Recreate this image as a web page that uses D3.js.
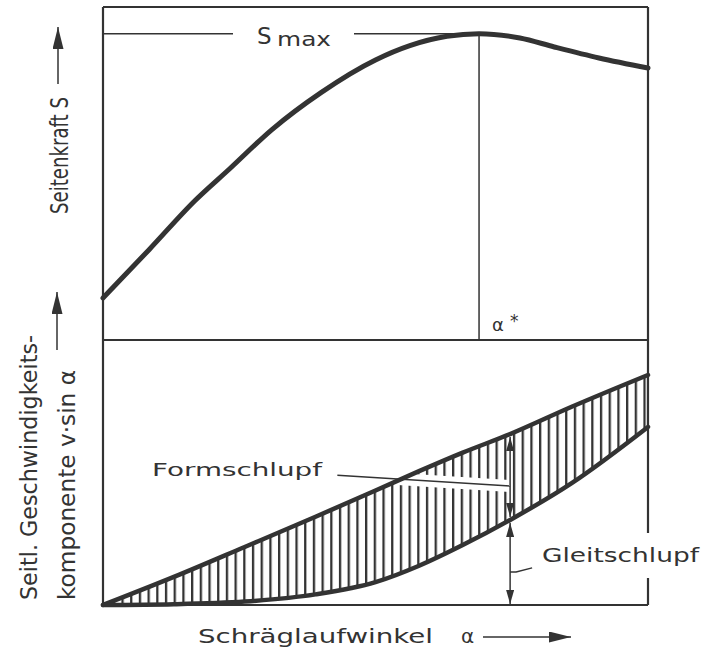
<!DOCTYPE html>
<html>
<head>
<meta charset="utf-8">
<script src="https://cdn.jsdelivr.net/npm/d3@7"></script>
<style>
    body { margin: 0; background: #fff; }
    text { font-family: "DejaVu Sans", sans-serif; fill: #333; }
</style>
</head>
<body>
<div id="chart"></div>
<script>
// Seitenkraft S over Schräglaufwinkel alpha (upper panel)
const alphaS = [0, 0.85, 1.69, 2.33, 3.1, 4.0, 5.0, 5.63, 6.31, 6.9, 7.65, 8.28, 9.1, 10];
const seitenkraft = [12.6, 27.2, 41.9, 51.5, 63.2, 74.3, 84.1, 88.4, 91.2, 92.0, 90.7, 88.0, 84.7, 81.7];

// lateral speed component v*sin(alpha) (lower panel)
const alphaV = [0, 1.3, 2.6, 3.9, 5.0, 5.8, 6.6, 7.47, 8.6, 10];
const vGesamt = [0, 10.6, 21.9, 33.3, 43.2, 50.5, 57.5, 64.5, 74.8, 86.8];
const vGleit = [0, 0.3, 1.3, 4.0, 8.6, 14.8, 22.6, 32.1, 46, 67.2];

const alphaArrow = 7.47;
const formLeader = [[4.3, 49], [7.47, 44.9]];
const gleitLeader = [7.47, 12.5];

const ink = '#333';
const W = 702, H = 653;
const frame = { left: 103, right: 648, top: 7, mid: 340, bottom: 605 };

const svg = d3.select('#chart').append('svg')
    .attr('width', W)
    .attr('height', H);

const x = d3.scaleLinear().domain([0, 10]).range([frame.left, frame.right]);
const yS = d3.scaleLinear().domain([0, 100]).range([frame.mid, frame.top]);
const yV = d3.scaleLinear().domain([0, 100]).range([frame.bottom, frame.mid]);

const defs = svg.append('defs');
defs.append('pattern')
    .attr('id', 'hatch')
    .attr('patternUnits', 'userSpaceOnUse')
    .attr('x', frame.left + 1)
    .attr('width', 8.7)
    .attr('height', 20)
    .append('rect')
    .attr('width', 2.3)
    .attr('height', 20)
    .attr('fill', '#333');

function marker(id, len, wid) {
    defs.append('marker')
        .attr('id', id)
        .attr('viewBox', `0 0 ${len} ${wid}`)
        .attr('refX', len)
        .attr('refY', wid / 2)
        .attr('markerUnits', 'userSpaceOnUse')
        .attr('markerWidth', len)
        .attr('markerHeight', wid)
        .attr('orient', 'auto-start-reverse')
        .append('path')
        .attr('d', `M0,0L${len},${wid / 2}L0,${wid}Z`)
        .attr('fill', ink);
}
marker('head', 14, 8);
marker('bighead', 22, 11);

// frame
const frameLines = [
    [frame.left, frame.top, frame.right, frame.top],
    [frame.left, frame.top, frame.left, frame.bottom],
    [frame.left, frame.bottom, frame.right, frame.bottom],
    [frame.left, frame.mid, frame.right, frame.mid],
    [frame.right, frame.top, frame.right, 533],
    [frame.right, 578, frame.right, frame.bottom],
];
svg.append('g').selectAll('line')
    .data(frameLines)
    .join('line')
    .attr('x1', d => d[0]).attr('y1', d => d[1])
    .attr('x2', d => d[2]).attr('y2', d => d[3])
    .attr('stroke', ink)
    .attr('stroke-width', 2.2);

// upper panel
const sData = alphaS.map((a, i) => ({ a, s: seitenkraft[i] }));
const peak = sData.reduce((m, d) => d.s > m.s ? d : m, sData[0]);

svg.append('line')
    .attr('x1', frame.left).attr('x2', 233)
    .attr('y1', yS(peak.s)).attr('y2', yS(peak.s))
    .attr('stroke', ink).attr('stroke-width', 1.5);
svg.append('line')
    .attr('x1', 354).attr('x2', x(peak.a))
    .attr('y1', yS(peak.s)).attr('y2', yS(peak.s))
    .attr('stroke', ink).attr('stroke-width', 1.5);
svg.append('line')
    .attr('x1', x(peak.a)).attr('x2', x(peak.a))
    .attr('y1', yS(peak.s)).attr('y2', frame.mid)
    .attr('stroke', ink).attr('stroke-width', 1.5);

svg.append('path')
    .datum(sData)
    .attr('d', d3.line().x(d => x(d.a)).y(d => yS(d.s)).curve(d3.curveMonotoneX))
    .attr('fill', 'none')
    .attr('stroke', ink)
    .attr('stroke-width', 5)
    .attr('stroke-linecap', 'round');

svg.append('text').attr('x', 257).attr('y', 44)
    .attr('font-size', 23).text('S');
svg.append('text').attr('x', 277).attr('y', 46)
    .attr('font-size', 19)
    .attr('textLength', 54).attr('lengthAdjust', 'spacingAndGlyphs')
    .text('max');
svg.append('text').attr('x', x(peak.a) + 13).attr('y', 331)
    .attr('font-size', 18).text('α');
svg.append('text').attr('x', x(peak.a) + 31).attr('y', 327)
    .attr('font-size', 17).text('*');

// lower panel
const vData = alphaV.map((a, i) => ({ a, top: vGesamt[i], low: vGleit[i] }));

svg.append('path')
    .datum(vData)
    .attr('d', d3.area().x(d => x(d.a)).y0(d => yV(d.low)).y1(d => yV(d.top)).curve(d3.curveMonotoneX))
    .attr('fill', 'url(#hatch)');

// gap in the hatching around the Formschlupf leader
const leaderLine = d3.line().x(d => x(d[0])).y(d => yV(d[1]));
svg.append('path')
    .attr('d', leaderLine(formLeader))
    .attr('stroke', '#fff')
    .attr('stroke-width', 12)
    .attr('fill', 'none');

['top', 'low'].forEach(k => {
    svg.append('path')
        .datum(vData)
        .attr('d', d3.line().x(d => x(d.a)).y(d => yV(d[k])).curve(d3.curveMonotoneX))
        .attr('fill', 'none')
        .attr('stroke', ink)
        .attr('stroke-width', 4.5)
        .attr('stroke-linecap', 'round');
});

svg.append('path')
    .attr('d', leaderLine(formLeader))
    .attr('stroke', ink)
    .attr('stroke-width', 1.5)
    .attr('fill', 'none');

const arrowPoint = vData.find(d => d.a === alphaArrow);
svg.append('line')
    .attr('x1', x(alphaArrow)).attr('x2', x(alphaArrow))
    .attr('y1', yV(arrowPoint.top) + 3).attr('y2', yV(arrowPoint.low) - 3)
    .attr('stroke', ink).attr('stroke-width', 1.5)
    .attr('marker-start', 'url(#head)')
    .attr('marker-end', 'url(#head)');
svg.append('line')
    .attr('x1', x(alphaArrow)).attr('x2', x(alphaArrow))
    .attr('y1', yV(arrowPoint.low) + 3).attr('y2', yV(0) - 1)
    .attr('stroke', ink).attr('stroke-width', 1.5)
    .attr('marker-start', 'url(#head)')
    .attr('marker-end', 'url(#head)');

const gx = x(gleitLeader[0]), gy = yV(gleitLeader[1]);
svg.append('path')
    .attr('d', `M${gx},${gy}h6l16,-4`)
    .attr('stroke', ink).attr('stroke-width', 1.5)
    .attr('fill', 'none');

svg.append('text').attr('x', 152).attr('y', 476)
    .attr('font-size', 18)
    .attr('textLength', 170).attr('lengthAdjust', 'spacingAndGlyphs')
    .text('Formschlupf');
svg.append('text').attr('x', 542).attr('y', 562)
    .attr('font-size', 19)
    .attr('textLength', 157).attr('lengthAdjust', 'spacingAndGlyphs')
    .text('Gleitschlupf');

// axis titles
svg.append('text').attr('x', 198).attr('y', 643)
    .attr('font-size', 20)
    .attr('textLength', 235).attr('lengthAdjust', 'spacingAndGlyphs')
    .text('Schräglaufwinkel');
svg.append('text').attr('x', 461).attr('y', 643)
    .attr('font-size', 20).text('α');
svg.append('line')
    .attr('x1', 483).attr('x2', 571)
    .attr('y1', 637).attr('y2', 637)
    .attr('stroke', ink).attr('stroke-width', 1.5)
    .attr('marker-end', 'url(#bighead)');

svg.append('line')
    .attr('x1', 58).attr('x2', 58)
    .attr('y1', 84).attr('y2', 27)
    .attr('stroke', ink).attr('stroke-width', 1.5)
    .attr('marker-end', 'url(#bighead)');
svg.append('text')
    .attr('transform', 'translate(68,214) rotate(-90)')
    .attr('font-size', 24)
    .attr('textLength', 117).attr('lengthAdjust', 'spacingAndGlyphs')
    .text('Seitenkraft  S');

svg.append('line')
    .attr('x1', 57).attr('x2', 57)
    .attr('y1', 350).attr('y2', 292)
    .attr('stroke', ink).attr('stroke-width', 1.5)
    .attr('marker-end', 'url(#bighead)');
svg.append('text')
    .attr('transform', 'translate(37,600) rotate(-90)')
    .attr('font-size', 23)
    .attr('textLength', 265).attr('lengthAdjust', 'spacingAndGlyphs')
    .text('Seitl. Geschwindigkeits-');
svg.append('text')
    .attr('transform', 'translate(75,600) rotate(-90)')
    .attr('font-size', 23)
    .attr('textLength', 230).attr('lengthAdjust', 'spacingAndGlyphs')
    .text('komponente  v·sin α');
</script>
</body>
</html>
